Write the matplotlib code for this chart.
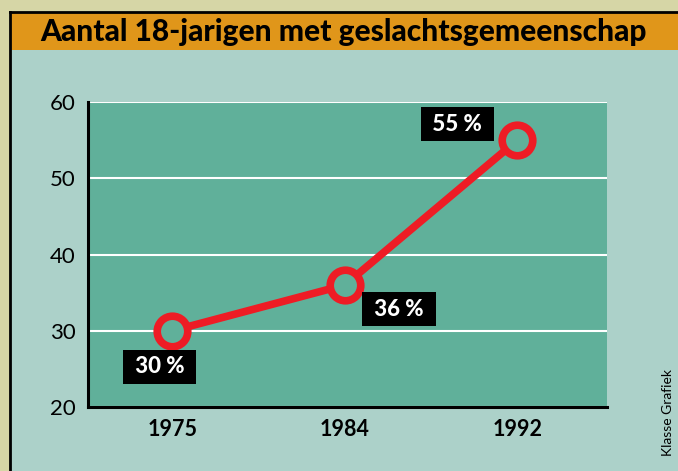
import matplotlib.pyplot as plt
from matplotlib.patches import Rectangle

years = ['1975', '1984', '1992']
values = [30, 36, 55]
labels = ['30 %', '36 %', '55 %']
label_offsets = [(-13, -36), (54, -24), (-60, 16)]  # pixels from point
y_ticks = [20, 30, 40, 50, 60]

panel_bg = '#acd1c9'
plot_bg = '#60b09a'
orange = '#e0961a'
red = '#ee1c25'

plt.rcParams['font.family'] = ['Lato', 'DejaVu Sans']

fig = plt.figure(figsize=(6.78, 4.71), dpi=100)
fig.patch.set_facecolor('#d6d6a6')

W, H = 678, 471
# light panel + orange title bar
fig.patches.append(Rectangle((10 / W, 0), 1, 1 - 12 / H, transform=fig.transFigure,
                             facecolor=panel_bg, edgecolor='none', zorder=-3))
fig.patches.append(Rectangle((10 / W, 1 - 50 / H), 1, 38 / H, transform=fig.transFigure,
                             facecolor=orange, edgecolor='none', zorder=-2))
fig.add_artist(plt.Line2D([10 / W, 10 / W], [0, 1 - 12 / H], color='black', lw=2,
                          transform=fig.transFigure))
fig.add_artist(plt.Line2D([10 / W, 1], [1 - 12 / H, 1 - 12 / H], color='black', lw=2,
                          transform=fig.transFigure))
fig.text(0.5 + 5 / W, 1 - 32 / H, 'Aantal 18-jarigen met geslachtsgemeenschap',
         ha='center', va='center', fontsize=21.5, fontweight='black', color='black')
fig.text(668 / W, 1 - 413 / H, 'Klasse Grafiek', rotation=90, ha='center', va='center',
         fontsize=10, color='black')

ax = fig.add_axes([88 / W, 1 - 407 / H, 519 / W, 305 / H])
ax.set_zorder(2)
ax.set_facecolor(plot_bg)
x = range(len(years))
ax.set_xlim(-0.49, 2.52)
ax.set_ylim(20, 60)
ax.set_yticks(y_ticks)
ax.set_xticks(list(x))
ax.set_xticklabels(years, fontsize=15.5, fontweight='bold')
ax.tick_params(axis='y', labelsize=16, length=0, pad=9)
ax.tick_params(axis='x', length=0, pad=9)
ax.yaxis.grid(True, color='white', lw=1.5)
ax.set_axisbelow(True)
for s in ['top', 'right']:
    ax.spines[s].set_visible(False)
for s in ['left', 'bottom']:
    ax.spines[s].set_linewidth(2.2)
    ax.spines[s].set_zorder(5)

ax.plot(x, values, color=red, lw=5.5, marker='o', markersize=22,
        markerfacecolor=plot_bg, markeredgecolor=red, markeredgewidth=5.5,
        clip_on=False, zorder=3)

for xi, v, lab, off in zip(x, values, labels, label_offsets):
    ax.annotate(' ' + lab + ' ', (xi, v), xytext=off, textcoords='offset pixels',
                ha='center', va='center', fontsize=16, fontweight='black', color='white',
                bbox=dict(boxstyle='square,pad=0.3', facecolor='black', edgecolor='none'),
                zorder=4)

fig.savefig('out.png', dpi=100, facecolor=fig.get_facecolor())
